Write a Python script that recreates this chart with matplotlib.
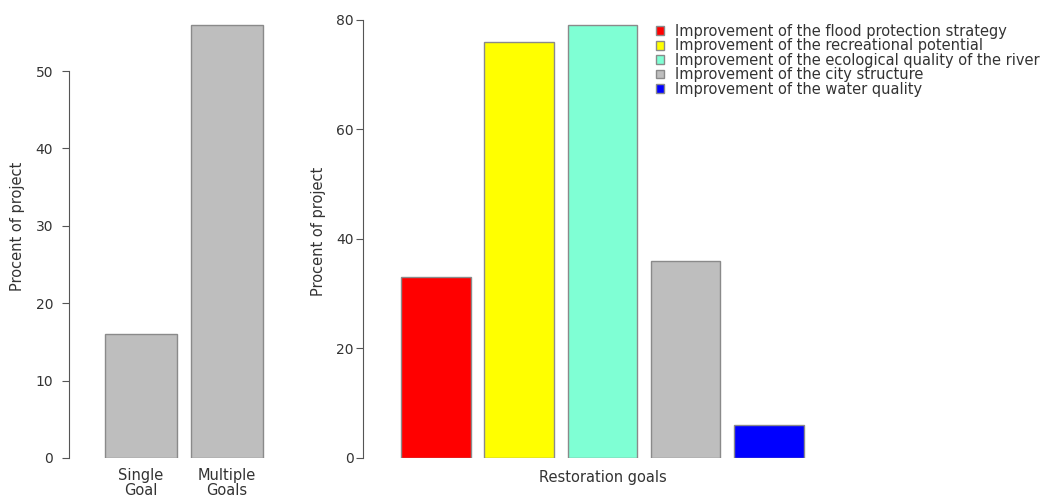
import matplotlib
matplotlib.use("Agg")
import matplotlib.pyplot as plt
from matplotlib.patches import Patch
from matplotlib.transforms import blended_transform_factory

# left panel: single vs multiple goals
goal_types = ['Single\nGoal', 'Multiple\nGoals']
goal_share = [16, 56]

# right panel: restoration goals
restoration_goals = [
    'Improvement of the flood protection strategy',
    'Improvement of the recreational potential',
    'Improvement of the ecological quality of the river',
    'Improvement of the city structure',
    'Improvement of the water quality',
]
restoration_share = [33, 76, 79, 36, 6]
goal_colors = ['#FF0000', '#FFFF00', '#7FFFD4', '#BEBEBE', '#0000FF']

text_col = '#333333'
axis_col = '#555555'
edge_col = '#8a8a8a'
plt.rcParams['font.family'] = 'DejaVu Sans'
plt.rcParams['font.size'] = 10.5

fig = plt.figure(figsize=(10.46, 4.99), dpi=100)

# R-style bar positions (width 1, space 0.2)
pos_left = [0.7 + 1.2 * i for i in range(len(goal_share))]
pos_right = [0.7 + 1.2 * i for i in range(len(restoration_share))]

ax1 = fig.add_axes([0.066, 0.0822, 0.199, 0.884])
ax1.bar(pos_left, goal_share, width=1, color='#BEBEBE', edgecolor=edge_col, linewidth=1)
ax1.set_xlim(-0.3, 2.6)
ax1.set_ylim(0, 57)
ax1.set_yticks([0, 10, 20, 30, 40, 50])
ax1.set_xticks(pos_left)
ax1.set_xticklabels(goal_types, color=text_col, linespacing=1.0)
ax1.set_ylabel('Procent of project', color=text_col)
ax1.yaxis.set_label_coords(-0.21, 0.525)

ax2 = fig.add_axes([0.347, 0.0822, 0.647, 0.889])
ax2.bar(pos_right, restoration_share, width=1, color=goal_colors, edgecolor=edge_col, linewidth=1)
ax2.set_xlim(-0.35, 9.4)
ax2.set_ylim(0, 81)
ax2.set_yticks([0, 20, 40, 60, 80])
ax2.set_xticks([])
ax2.set_ylabel('Procent of project', color=text_col)
ax2.yaxis.set_label_coords(-0.055, 0.51)
trans = blended_transform_factory(ax2.transData, ax2.transAxes)
mid = (pos_right[0] + pos_right[-1]) / 2
ax2.text(mid, -0.043, 'Restoration goals', transform=trans, ha='center', va='center', color=text_col)

for ax, top, pad in [(ax1, 50, 6.5), (ax2, 80, 1.5)]:
    for s in ['top', 'right', 'bottom']:
        ax.spines[s].set_visible(False)
    ax.spines['left'].set_bounds(0, top)
    ax.spines['left'].set_color(axis_col)
    ax.tick_params(axis='y', length=5, color=axis_col, labelcolor=text_col, pad=pad, labelsize=10)
    ax.tick_params(axis='x', length=0, pad=7)

handles = [Patch(facecolor=c, edgecolor=edge_col) for c in goal_colors]
fig.legend(handles, restoration_goals, loc='upper left', bbox_to_anchor=(0.627, 0.952),
           frameon=False, fontsize=10.5, handlelength=0.55, handleheight=0.55,
           handletextpad=0.75, labelspacing=-0.04, borderaxespad=0, borderpad=0,
           labelcolor=text_col)

fig.savefig('out.png', dpi=100)
